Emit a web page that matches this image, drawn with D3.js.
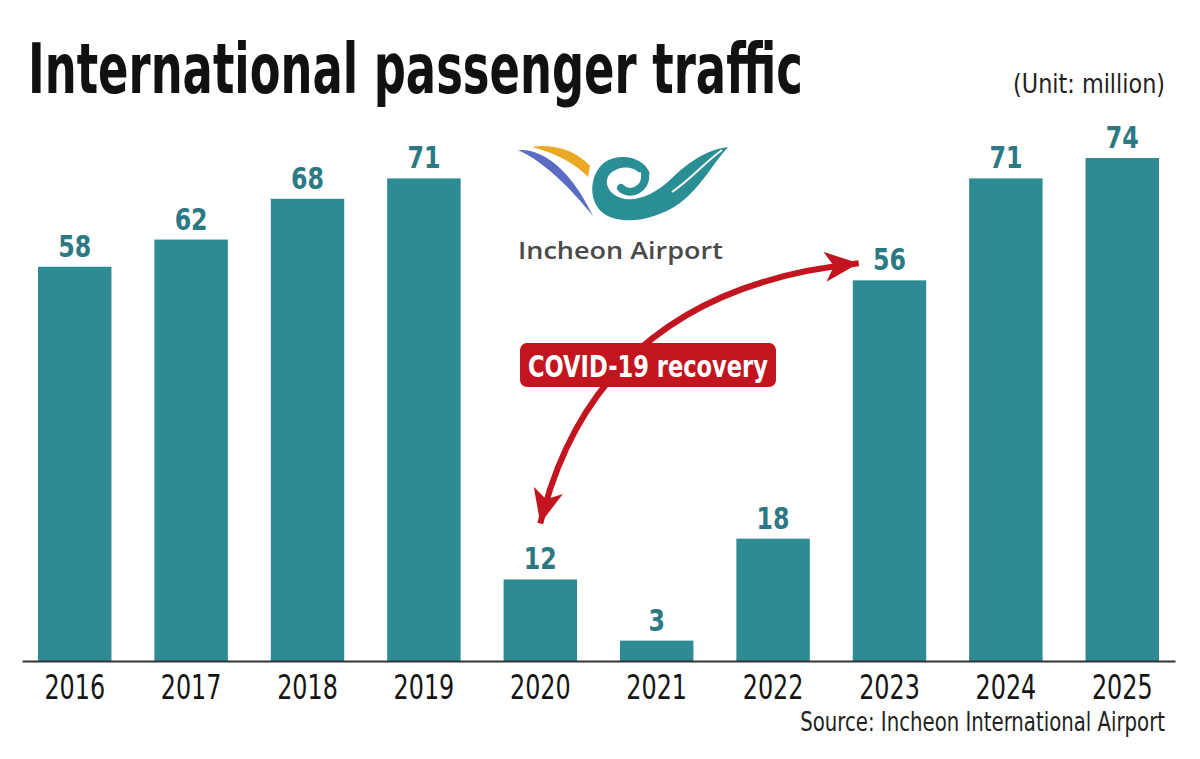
<!DOCTYPE html>
<html>
<head>
<meta charset="utf-8">
<script src="https://cdn.jsdelivr.net/npm/d3@7"></script>
<style>
  body { margin: 0; background: #fff; }
  svg { display: block; }
  .narrow { font-family: "Liberation Sans Narrow", "DejaVu Sans Condensed", "Liberation Sans", sans-serif; }
</style>
</head>
<body>
<div id="chart"></div>
<script>
// chart data
const years = ["2016", "2017", "2018", "2019", "2020", "2021", "2022", "2023", "2024", "2025"];
const passengers = [58, 62, 68, 71, 12, 3, 18, 56, 71, 74]; // million
const title = "International passenger traffic";
const unitLabel = "(Unit: million)";
const sourceLabel = "Source: Incheon International Airport";
const noteLabel = "COVID-19 recovery";

const width = 1200, height = 759;
const barColor = "#2f8b93", valueColor = "#2b7a83", red = "#c3151f";

const svg = d3.select("#chart")
  .append("svg")
    .attr("width", width)
    .attr("height", height);

// squeeze a text horizontally (the original uses a condensed face)
function squeeze(sel, sx) {
  sel.each(function() {
    const t = d3.select(this);
    const tx = +t.attr("x") || 0, ty = +t.attr("y") || 0;
    t.attr("x", 0).attr("y", 0)
     .attr("transform", "translate(" + tx + "," + ty + ") scale(" + sx + ",1)");
  });
}
// squeeze to a target width
function fitWidth(sel, w) {
  const len = sel.node().getComputedTextLength();
  squeeze(sel, w / len);
}

// scales
const x = d3.scaleBand()
    .domain(years)
    .range([22, 1175])
    .paddingInner(0.369)
    .paddingOuter(0.1375);

const y = d3.scaleLinear()
    .domain([0, 74])
    .range([661, 158]);

const data = years.map((d, i) => ({year: d, value: passengers[i]}));

// title + unit
svg.append("text")
    .attr("class", "narrow")
    .attr("x", 28).attr("y", 93)
    .attr("font-size", 70).attr("font-weight", "bold")
    .attr("fill", "#111")
    .text(title)
    .call(fitWidth, 775);

svg.append("text")
    .attr("class", "narrow")
    .attr("x", 1165).attr("y", 93)
    .attr("text-anchor", "end")
    .attr("font-size", 26).attr("fill", "#222")
    .text(unitLabel)
    .call(fitWidth, 152);

// logo
const logo = svg.append("g");
logo.append("path")
    .attr("d", "M532,147 C555,143 578,152 590,166 L588,177 C575,163 555,153 532,147 Z")
    .attr("fill", "#e9a922");
logo.append("path")
    .attr("d", "M518,150 C548,148 575,178 593,216 C572,190 545,162 518,150 Z")
    .attr("fill", "#5a6cc4");
logo.append("path")
    .attr("d", "M650,174 C645,157 620,152 605,162 C590,173 587,200 603,213 C620,226 655,221 680,203 C700,188 712,165 728,147 C705,150 688,163 672,178 C658,192 640,201 625,199 C610,196 603,184 609,175 C616,166 632,165 638,172 Z")
    .attr("fill", "#2a8e95");
logo.append("path")
    .attr("d", "M645,174 C647,189 630,197 621,188")
    .attr("fill", "none").attr("stroke", "#2a8e95").attr("stroke-width", 8).attr("stroke-linecap", "round");
logo.append("path")
    .attr("d", "M672,192 C690,180 704,163 722,150")
    .attr("fill", "none").attr("stroke", "#fff").attr("stroke-width", 2);
logo.append("text")
    .attr("x", 518).attr("y", 259)
    .attr("font-family", "'Open Sans', sans-serif")
    .attr("font-size", 24).attr("font-weight", 600)
    .attr("fill", "#4a4a4a")
    .text("Incheon Airport")
    .call(fitWidth, 205);

// bars
svg.append("g")
  .selectAll("rect")
  .data(data)
  .join("rect")
    .attr("x", d => x(d.year))
    .attr("y", d => y(d.value))
    .attr("width", x.bandwidth())
    .attr("height", d => y(0) - y(d.value))
    .attr("fill", barColor);

// value labels
svg.append("g")
  .selectAll("text")
  .data(data)
  .join("text")
    .attr("class", "narrow")
    .attr("x", d => x(d.year) + x.bandwidth() / 2)
    .attr("y", d => y(d.value) - 10)
    .attr("text-anchor", "middle")
    .attr("font-size", 31).attr("font-weight", "bold")
    .attr("fill", valueColor)
    .text(d => d.value)
    .call(squeeze, 0.85);

// x axis
const xAxis = svg.append("g")
    .attr("transform", "translate(0," + y(0) + ")")
    .call(d3.axisBottom(x).tickSize(0).tickPadding(14));
xAxis.select(".domain").attr("stroke", "#333").attr("stroke-width", 2);
xAxis.selectAll("text")
    .attr("class", "narrow")
    .attr("font-size", 34)
    .attr("fill", "#151515")
    .attr("transform", "scale(0.78,1)");

svg.append("text")
    .attr("class", "narrow")
    .attr("x", 1165).attr("y", 731)
    .attr("text-anchor", "end")
    .attr("font-size", 27).attr("fill", "#222")
    .text(sourceLabel)
    .call(fitWidth, 365);

// recovery arrow, from the 2020 label up to the 2023 label
const defs = svg.append("defs");
defs.append("marker")
    .attr("id", "head")
    .attr("markerUnits", "userSpaceOnUse")
    .attr("viewBox", "-36 -16 38 32")
    .attr("refX", 0).attr("refY", 0)
    .attr("markerWidth", 38).attr("markerHeight", 32)
    .attr("orient", "auto-start-reverse")
  .append("path")
    .attr("d", "M0,0 L-34,-15 L-25,0 L-34,15 Z")
    .attr("fill", red);

const x0 = x("2020") + x.bandwidth() / 2, y0 = y(12) - 56;
const x1 = x("2023") + 6, y1 = y(56) - 17;
svg.append("path")
    .attr("d", `M${x0},${y0} Q597,290 ${x1},${y1}`)
    .attr("fill", "none")
    .attr("stroke", red)
    .attr("stroke-width", 6)
    .attr("marker-start", "url(#head)")
    .attr("marker-end", "url(#head)");

const note = svg.append("g").attr("transform", "translate(648,365)");
note.append("rect")
    .attr("x", -128).attr("y", -22)
    .attr("width", 256).attr("height", 44)
    .attr("rx", 7)
    .attr("fill", red);
note.append("text")
    .attr("class", "narrow")
    .attr("y", 12)
    .attr("text-anchor", "middle")
    .attr("font-size", 31).attr("font-weight", "bold")
    .attr("fill", "#fff")
    .text(noteLabel)
    .call(fitWidth, 240);
</script>
</body>
</html>
